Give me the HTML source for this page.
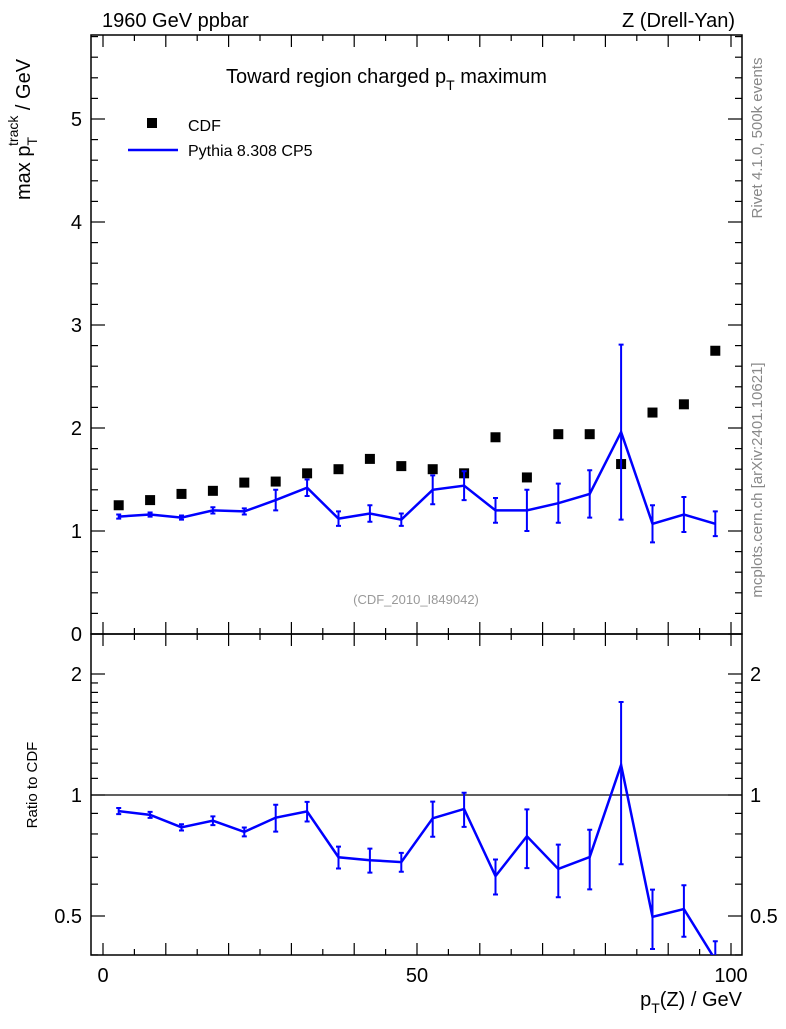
<!DOCTYPE html>
<html><head><meta charset="utf-8"><style>
body{margin:0;background:#fff}
svg text{font-family:"Liberation Sans",sans-serif}
</style></head><body>
<svg id="c" width="786" height="1024" viewBox="0 0 786 1024" xmlns="http://www.w3.org/2000/svg"></svg>
<script>
const xCenters=[2.5,7.5,12.5,17.5,22.5,27.5,32.5,37.5,42.5,47.5,52.5,57.5,62.5,67.5,72.5,77.5,82.5,87.5,92.5,97.5];
const cdfValues=[1.25,1.30,1.36,1.39,1.47,1.48,1.56,1.60,1.70,1.63,1.60,1.56,1.91,1.52,1.94,1.94,1.65,2.15,2.23,2.75];
const pythiaValues=[1.14,1.16,1.13,1.20,1.19,1.30,1.42,1.12,1.17,1.11,1.40,1.44,1.20,1.20,1.27,1.36,1.96,1.07,1.16,1.07];
const pythiaErrors=[0.02,0.02,0.02,0.03,0.03,0.10,0.08,0.07,0.08,0.06,0.14,0.14,0.12,0.20,0.19,0.23,0.85,0.18,0.17,0.12];
const mainYTicks=[0,1,2,3,4,5];
const ratioYTicks=[0.5,1,2];
const xTicks=[0,50,100];

const NS="http://www.w3.org/2000/svg";
const svg=document.getElementById('c');
const L=91,R=742,T=35,MB=634,RB=955;
const sx=v=>103+v*6.28;
const sy=v=>MB-v*103;
const ry=v=>795-Math.log2(v)*121;
function el(tag,attrs,parent){const e=document.createElementNS(NS,tag);for(const k in attrs)e.setAttribute(k,attrs[k]);(parent||svg).appendChild(e);return e;}
function txt(x,y,s,size,anchor,fill,name){const t=el('text',{x:x,y:y,'font-size':size,'text-anchor':anchor||'start',fill:fill||'#000'});t.textContent=s;


return t;}

const defs=el('defs',{});
const c1=el('clipPath',{id:'cm'},defs);el('rect',{x:L,y:T,width:R-L,height:MB-T},c1);
const c2=el('clipPath',{id:'cr'},defs);el('rect',{x:L,y:MB,width:R-L,height:RB-MB},c2);

const f1=el('rect',{x:L,y:T,width:R-L,height:MB-T,fill:'none',stroke:'#000','stroke-width':1.5});


const f2=el('rect',{x:L,y:MB,width:R-L,height:RB-MB,fill:'none',stroke:'#000','stroke-width':1.5});



for(let v=0;v<=100;v+=5){const big=v%10===0;const x=sx(v);const l=big?12:6;
for(const [yb,yt] of [[MB,T],[RB,MB]]){
el('line',{x1:x,y1:yb,x2:x,y2:yb-l,stroke:'#000','stroke-width':1.2});
el('line',{x1:x,y1:yt,x2:x,y2:yt+l,stroke:'#000','stroke-width':1.2});}}
xTicks.forEach(v=>txt(sx(v),982,String(v),20,'middle','#000','x-tick-label'));

for(let i=0;i<=29;i++){const v=i*0.2;const y=sy(v);if(y<T)continue;const big=i%5===0;const l=big?14:7;
el('line',{x1:L,y1:y,x2:L+l,y2:y,stroke:'#000','stroke-width':1.2});
el('line',{x1:R,y1:y,x2:R-l,y2:y,stroke:'#000','stroke-width':1.2});}
mainYTicks.forEach(v=>txt(82,sy(v)+7,String(v),20,'end','#000','y-tick-label'));

for(const v of [0.4,0.5,0.6,0.7,0.8,0.9,1,1.1,1.2,1.3,1.4,1.5,1.6,1.7,1.8,1.9,2]){const y=ry(v);if(y>RB||y<MB)continue;const big=[0.5,1,2].includes(v);const l=big?14:7;
el('line',{x1:L,y1:y,x2:L+l,y2:y,stroke:'#000','stroke-width':1.2});
el('line',{x1:R,y1:y,x2:R-l,y2:y,stroke:'#000','stroke-width':1.2});}
ratioYTicks.forEach(v=>{txt(82,ry(v)+7,String(v),20,'end','#000','ratio-tick-label');txt(750,ry(v)+7,String(v),20,'start','#000','ratio-tick-label-right');});

el('line',{x1:L,y1:ry(1),x2:R,y2:ry(1),stroke:'#000','stroke-width':1.2});

const gm=el('g',{'clip-path':'url(#cm)'});
xCenters.forEach((x,i)=>{const r=el('rect',{x:sx(x)-5,y:sy(cdfValues[i])-5,width:10,height:10,fill:'#000'},gm);

});
const pl=el('polyline',{points:xCenters.map((x,i)=>sx(x)+','+sy(pythiaValues[i])).join(' '),fill:'none',stroke:'#00f','stroke-width':2.5},gm);


xCenters.forEach((x,i)=>{const X=sx(x),y1=sy(pythiaValues[i]-pythiaErrors[i]),y2=sy(pythiaValues[i]+pythiaErrors[i]);
const e=el('path',{d:`M${X},${y1}V${y2}M${X-2.5},${y1}H${X+2.5}M${X-2.5},${y2}H${X+2.5}`,stroke:'#00f','stroke-width':2,fill:'none'},gm);

});

const gr=el('g',{'clip-path':'url(#cr)'});
const rl=el('polyline',{points:xCenters.map((x,i)=>sx(x)+','+ry(pythiaValues[i]/cdfValues[i])).join(' '),fill:'none',stroke:'#00f','stroke-width':2.5},gr);


xCenters.forEach((x,i)=>{const r=pythiaValues[i]/cdfValues[i],e=pythiaErrors[i]/cdfValues[i];const X=sx(x);const y1=ry(Math.max(r-e,0.01)),y2=ry(r+e);
const p=el('path',{d:`M${X},${y1}V${y2}M${X-2.5},${y1}H${X+2.5}M${X-2.5},${y2}H${X+2.5}`,stroke:'#00f','stroke-width':2,fill:'none'},gr);

});

txt(102,27,'1960 GeV ppbar',20,'start','#000','energy-label');
txt(735,27,'Z (Drell-Yan)',20,'end','#000','process-label');
const tt=el('text',{x:226,y:83,'font-size':20});tt.innerHTML='Toward region charged p<tspan font-size="14" dy="7">T</tspan><tspan dy="-7"> maximum</tspan>';


const lg1=el('rect',{x:147,y:118,width:10,height:10,fill:'#000'});


txt(188,131,'CDF',16,'start','#000','legend-cdf');
const lg2=el('line',{x1:128,y1:150,x2:178,y2:150,stroke:'#00f','stroke-width':2.5});


txt(188,156,'Pythia 8.308 CP5',16,'start','#000','legend-pythia');
txt(416,604,'(CDF_2010_I849042)',13,'middle','#999','analysis-id');
const yl=el('text',{transform:'translate(30,200) rotate(-90)','font-size':20});yl.innerHTML='max p<tspan font-size="14" dy="7">T</tspan><tspan font-size="14" dy="-19" dx="-9">track</tspan><tspan dy="12"> / GeV</tspan>';


const rl2=txt(0,0,'Ratio to CDF',15,'middle','#000','ratio-axis-title');rl2.setAttribute('transform','translate(37,785) rotate(-90)');
const xl=el('text',{x:742,y:1006,'font-size':20,'text-anchor':'end'});xl.innerHTML='p<tspan font-size="14" dy="7">T</tspan><tspan dy="-7">(Z) / GeV</tspan>';


const s1=txt(0,0,'Rivet 4.1.0,  500k events',15,'middle','#888','rivet-label');s1.setAttribute('transform','translate(762,138) rotate(-90)');
const s2=txt(0,0,'mcplots.cern.ch [arXiv:2401.10621]',15,'middle','#888','mcplots-label');s2.setAttribute('transform','translate(762,480) rotate(-90)');
</script>
</body></html>
